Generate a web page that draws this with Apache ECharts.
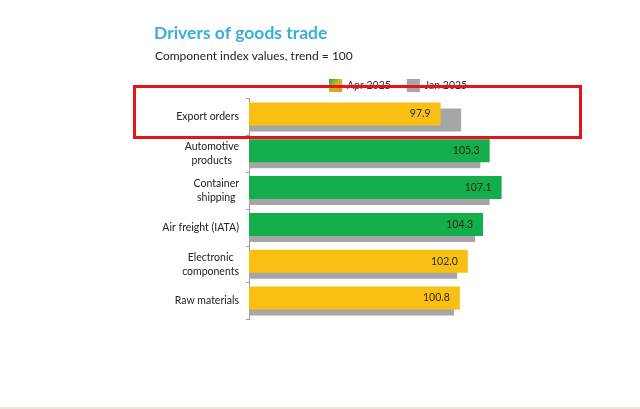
<!DOCTYPE html>
<html>
<head>
<meta charset="utf-8">
<script src="https://cdn.jsdelivr.net/npm/echarts@6/dist/echarts.min.js"></script>
<style>
html,body{margin:0;padding:0;background:#fff;}
#c{width:640px;height:409px;}
</style>
</head>
<body>
<div id="c"></div>
<script>
// ---- data ----
const categories = ['Export orders', 'Automotive\nproducts', 'Container\nshipping', 'Air freight (IATA)', 'Electronic\ncomponents', 'Raw materials'];
const apr2025 = [97.9, 105.3, 107.1, 104.3, 102.0, 100.8];
const jan2025 = [101.0, 103.9, 105.3, 103.1, 100.4, 99.9];
const seriesNames = ['Apr 2025', 'Jan 2025'];
const titleText = 'Drivers of goods trade';
const subtitleText = 'Component index values, trend = 100';

const YELLOW = '#F9BF12';
const GREEN = '#14AE4C';
const GRAY = '#A6A6A6';

const chart = echarts.init(document.getElementById('c'), null, {renderer: 'canvas'});
const FONT = 'Lato, "Open Sans", sans-serif';

chart.setOption({
  backgroundColor: '#ffffff',
  animation: false,
  title: [
    {text: titleText, left: 154, top: 24, padding: 0,
     textStyle: {fontFamily: FONT, fontSize: 17.5, fontWeight: 'bold', color: '#3AAEDA'}},
    {text: subtitleText, left: 155, top: 50, padding: 0,
     textStyle: {fontFamily: FONT, fontSize: 12, fontWeight: 'normal', color: '#222'}}
  ],
  legend: {
    left: 329, top: 79, padding: 0,
    itemWidth: 13, itemHeight: 13, itemGap: 16,
    textStyle: {fontFamily: FONT, fontSize: 10.5, color: '#333'},
    data: [
      {name: seriesNames[0], icon: 'rect',
       itemStyle: {color: new echarts.graphic.LinearGradient(0, 0, 1, 1, [
         {offset: 0, color: GREEN}, {offset: 0.5, color: '#C9BA20'}, {offset: 1, color: '#F08A1A'}])}},
      {name: seriesNames[1], icon: 'rect', itemStyle: {color: GRAY}}
    ]
  },
  grid: {left: 249, right: 59.5, top: 98.5, bottom: 89.5, containLabel: false},
  xAxis: {
    type: 'value', min: 69, max: 119,
    show: false
  },
  yAxis: {
    type: 'category', inverse: true, data: categories,
    axisLine: {show: true, lineStyle: {color: '#9a9a9a', width: 1}},
    axisTick: {show: true, length: 3, lineStyle: {color: '#9a9a9a'}},
    axisLabel: {
      margin: 10,
      fontFamily: FONT, fontSize: 10.5, color: '#222', lineHeight: 14,
      formatter: function (v) {
        return v.split('\n').map(function (l) { return '{c|' + l + '}'; }).join('\n');
      },
      rich: {c: {align: 'center', fontFamily: FONT, fontSize: 10.5, color: '#222', lineHeight: 14}}
    }
  },
  series: [
    {
      name: seriesNames[0], type: 'bar', data: apr2025,
      barWidth: 23, barGap: '-74%', z: 3,
      itemStyle: {color: function (p) { return p.value >= 103 ? GREEN : YELLOW; }},
      label: {show: true, position: 'insideRight', distance: 10,
        fontFamily: FONT, fontSize: 10.5, color: '#2b2b10',
        formatter: function (p) { return p.value.toFixed(1); }}
    },
    {
      name: seriesNames[1], type: 'bar', data: jan2025,
      barWidth: 23, z: 2,
      itemStyle: {color: GRAY}
    }
  ],
  graphic: [
    {type: 'rect', z: 100, silent: true,
     shape: {x: 134.5, y: 86.5, width: 446, height: 51},
     style: {fill: 'none', stroke: '#E8121A', lineWidth: 3}},
    {type: 'rect', z: 100, silent: true,
     shape: {x: 0, y: 407, width: 640, height: 2},
     style: {fill: '#EDE6D2'}}
  ]
});
</script>
</body>
</html>
